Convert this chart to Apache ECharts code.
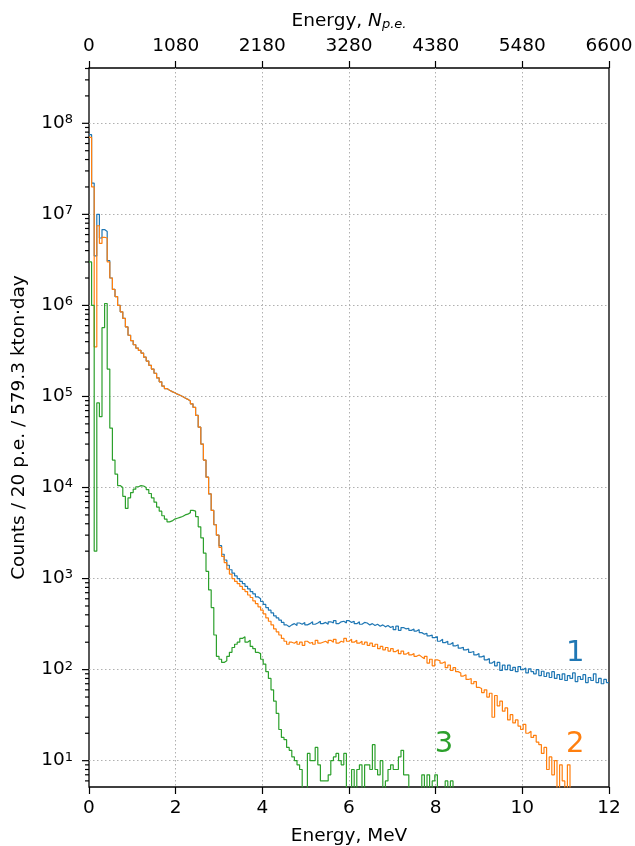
<!DOCTYPE html>
<html><head><meta charset="utf-8">
<script src="https://cdn.jsdelivr.net/npm/echarts@6/dist/echarts.min.js"></script>
<style>html,body{margin:0;padding:0;background:#fff}#c{width:635px;height:846px}</style>
</head><body><div id="c"></div>
<script>
// ---- data ----
const binWidth = 0.06; // MeV, bins start at 0
const xTicksMeV = [0, 2, 4, 6, 8, 10, 12];
const topTickLabels = ['0', '1080', '2180', '3280', '4380', '5480', '6600'];
const yDecadeExps = [1, 2, 3, 4, 5, 6, 7, 8];
const yMinorMults = [2, 3, 4, 5, 6, 7, 8, 9];

const series1 = [
  7.5e7, 2.2e7, 3.5e6, 1.0e7, 5.5e6, 6.8e6, 6.5e6, 3.1e6, 2.0e6, 1.5e6,
  1.25e6, 1.0e6, 8.5e5, 7.2e5, 5.8e5, 4.7e5, 4.1e5, 3.7e5, 3.4e5, 3.2e5,
  3.0e5, 2.7e5, 2.45e5, 2.2e5, 2.0e5, 1.8e5, 1.6e5, 1.45e5, 1.3e5, 1.22e5,
  1.17e5, 1.13e5, 1.1e5, 1.06e5, 1.03e5, 1.0e5, 9.6e4, 9.3e4, 8.9e4, 8.3e4,
  7.6e4, 6.2e4, 4.6e4, 3.0e4, 2.0e4, 1.3e4, 8.5e3, 5.6e3, 3.9e3, 3.0e3,
  2300, 1850, 1600, 1400, 1250, 1150, 1070, 1000, 930, 880,
  820, 770, 720, 680, 630, 600, 560, 520, 480, 450,
  420, 390, 370, 350, 330, 310, 295, 310, 320, 305,
  325, 315, 330, 310, 320, 335, 315, 325, 340, 320,
  330, 315, 335, 325, 345, 320, 335, 340, 325, 345,
  330, 340, 320, 335, 315, 330, 325, 310, 320, 305,
  315, 300, 310, 295, 305, 290, 300, 275, 300, 270,
  290, 280, 285, 270, 280, 265, 275, 255, 245, 250,
  235, 240, 225, 230, 205, 215, 198, 205, 190, 198,
  182, 188, 172, 176, 165, 168, 155, 158, 145, 150,
  138, 142, 128, 132, 118, 124, 110, 120, 98, 112,
  100, 112, 98, 106, 95, 108, 100, 104, 92, 102,
  95, 90, 100, 86, 96, 84, 92, 82, 95, 80,
  88, 78, 90, 76, 86, 80, 92, 74, 84, 78,
  88, 72, 82, 76, 90, 72, 80, 70, 78, 72
];

const series2 = [
  7.0e7, 2.0e7, 3.5e5, 7.5e6, 4.8e6, 5.6e6, 5.5e6, 3.0e6, 2.0e6, 1.5e6,
  1.25e6, 1.0e6, 8.5e5, 7.2e5, 5.8e5, 4.7e5, 4.1e5, 3.7e5, 3.4e5, 3.2e5,
  3.0e5, 2.7e5, 2.45e5, 2.2e5, 2.0e5, 1.8e5, 1.6e5, 1.45e5, 1.3e5, 1.22e5,
  1.17e5, 1.13e5, 1.1e5, 1.06e5, 1.03e5, 1.0e5, 9.6e4, 9.3e4, 8.9e4, 8.3e4,
  7.6e4, 6.2e4, 4.6e4, 3.0e4, 2.0e4, 1.3e4, 8.5e3, 5.6e3, 3.9e3, 3.0e3,
  2200, 1750, 1500, 1270, 1120, 1000, 930, 880, 820, 760,
  720, 660, 620, 570, 530, 490, 450, 410, 370, 340,
  310, 280, 260, 240, 220, 205, 190, 200, 195, 205,
  190, 200, 185, 205, 195, 200, 190, 210, 195, 200,
  205, 195, 210, 200, 215, 195, 205, 200, 220, 205,
  215, 200, 210, 195, 205, 190, 200, 185, 195, 180,
  190, 170, 180, 165, 175, 160, 170, 158, 165, 150,
  160, 148, 155, 145, 150, 140, 145, 138, 132, 140,
  118, 130, 110, 128, 125, 118, 122, 105, 112, 98,
  105, 95, 92, 85, 88, 78, 80, 70, 74, 64,
  62, 56, 60, 50, 55, 30, 52, 40, 45, 35,
  38, 28, 32, 26, 28, 24, 22, 25, 20, 21,
  18, 19, 16, 15, 12, 14, 8, 11, 7, 10,
  0, 9, 6, 0, 9, 0, 0, 0, 0, 0,
  0, 0, 0, 0, 0, 0, 0, 0, 0, 0
];

const series3 = [
  3.0e6, 1.0e6, 2.0e3, 8.5e4, 6.0e4, 5.7e5, 1.05e6, 2.0e5, 4.5e4, 2.0e4,
  1.4e4, 1.05e4, 1.0e4, 8.0e3, 5.9e3, 7.7e3, 8.8e3, 9.6e3, 1.02e4, 1.05e4,
  1.04e4, 1.0e4, 9.5e3, 8.6e3, 7.7e3, 6.9e3, 6.1e3, 5.5e3, 4.9e3, 4.5e3,
  4.2e3, 4.3e3, 4.5e3, 4.6e3, 4.7e3, 4.8e3, 5.0e3, 5.1e3, 5.3e3, 5.6e3,
  5.5e3, 4.8e3, 3.7e3, 2.8e3, 1.9e3, 1.2e3, 750, 480, 240, 140,
  130, 120, 125, 140, 155, 175, 190, 200, 220, 230,
  200, 210, 180, 170, 155, 150, 130, 115, 95, 80,
  60, 45, 33, 22, 18, 17, 14, 13, 11, 10,
  9, 8, 0, 0, 12, 10, 10, 14, 9, 6,
  6, 6, 7, 10, 11, 12, 10, 9, 12, 0,
  0, 8, 0, 8, 9, 0, 9, 9, 8, 15,
  8, 7, 10, 0, 6, 8, 9, 8, 8, 11,
  13, 7, 7, 0, 0, 0, 0, 0, 7, 0,
  7, 0, 6, 7, 0, 0, 0, 6, 0, 6,
  0, 0, 0, 0, 0, 0, 0, 0, 0, 0,
  0, 0, 0, 0, 0, 0, 0, 0, 0, 0,
  0, 0, 0, 0, 0, 0, 0, 0, 0, 0,
  0, 0, 0, 0, 0, 0, 0, 0, 0, 0,
  0, 0, 0, 0, 0, 0, 0, 0, 0, 0,
  0, 0, 0, 0, 0, 0, 0, 0, 0, 0
];

const seriesNames = ['1', '2', '3'];
const seriesColors = ['#1f77b4', '#ff7f0e', '#2ca02c'];
// label anchors in data coordinates [MeV, counts]
const labelAnchors = [[11.22, 152], [11.22, 14.9], [8.19, 14.9]];

// ---- chart ----
const FONT = 'DejaVu Sans';
const yMin = 5.14, yMax = 4.05e8;
const xMax = 12;

function histPoints(vals) {
  const pts = vals.map((v, i) => [i * binWidth, v > 0 ? v : 0.01]);
  const last = vals[vals.length - 1];
  pts.push([vals.length * binWidth, last > 0 ? last : 0.01]);
  return pts;
}

const tickData = [];
yDecadeExps.forEach(e => {
  const d = Math.pow(10, e);
  if (d >= yMin && d <= yMax) tickData.push([0, d, 1]);
  const base = Math.pow(10, e - 1);
  yMinorMults.forEach(m => {
    const v = m * base;
    if (v >= yMin && v <= yMax) tickData.push([0, v, 0]);
  });
});
yMinorMults.forEach(m => {
  const v = m * Math.pow(10, 8);
  if (v >= yMin && v <= yMax) tickData.push([0, v, 0]);
});

const gridLine = { color: '#b0b0b0', width: 1, type: [1.5, 2.5] };

const histSeries = [series1, series2, series3].map((vals, k) => ({
  type: 'line', name: seriesNames[k], step: 'end', showSymbol: false,
  data: histPoints(vals), clip: true, silent: true,
  lineStyle: { color: seriesColors[k], width: 1.2 }, z: 2 + k
}));

const labelSeries = labelAnchors.map((p, k) => ({
  type: 'scatter', data: [p], symbolSize: 0, silent: true, z: 10,
  itemStyle: { opacity: 1 },
  label: { show: true, position: 'inside', formatter: seriesNames[k],
    fontFamily: FONT, fontSize: 29, color: seriesColors[k], opacity: 1 }
}));

const option = {
  animation: false,
  backgroundColor: '#fff',
  grid: { left: 89, right: 26, top: 68, bottom: 59, show: true,
    outerBoundsMode: 'none', containLabel: false,
    borderColor: '#000', borderWidth: 1.3, backgroundColor: 'transparent' },
  xAxis: [{
    type: 'value', position: 'bottom', min: 0, max: xMax, interval: 2,
    axisLine: { show: false },
    axisTick: { show: true, length: 7, lineStyle: { color: '#000', width: 1.2 } },
    axisLabel: { margin: 12, fontFamily: FONT, fontSize: 18.5, color: '#000' },
    splitLine: { show: true, showMinLine: false, showMaxLine: false, lineStyle: gridLine },
    name: 'Energy, MeV', nameLocation: 'middle', nameGap: 40,
    nameTextStyle: { fontFamily: FONT, fontSize: 18.5, color: '#000' }
  }, {
    type: 'value', position: 'top', min: 0, max: xMax, interval: 2,
    axisLine: { show: false },
    axisTick: { show: true, length: 7, lineStyle: { color: '#000', width: 1.2 } },
    axisLabel: { margin: 12, fontFamily: FONT, fontSize: 18.5, color: '#000',
      formatter: v => topTickLabels[xTicksMeV.indexOf(Math.round(v))] },
    splitLine: { show: false },
    name: '{a|Energy, }{b|N}{c|p.e.}', nameLocation: 'middle', nameGap: 37,
    nameTextStyle: { fontFamily: FONT, fontSize: 18.5, color: '#000',
      rich: {
        a: { fontFamily: FONT, fontSize: 18.5, color: '#000' },
        b: { fontFamily: FONT, fontSize: 18.5, fontStyle: 'italic', color: '#000' },
        c: { fontFamily: FONT, fontSize: 13, fontStyle: 'italic', color: '#000', verticalAlign: 'bottom' }
      } }
  }],
  yAxis: [{
    type: 'log', logBase: 10, min: yMin, max: yMax,
    axisLine: { show: false }, axisTick: { show: false },
    axisLabel: { showMinLabel: false, showMaxLabel: false, margin: 16,
      formatter: v => '{n|10}{s|' + Math.round(Math.log10(v)) + '}',
      rich: {
        n: { fontFamily: FONT, fontSize: 18.5, color: '#000', lineHeight: 20 },
        s: { fontFamily: FONT, fontSize: 13, color: '#000', verticalAlign: 'top', lineHeight: 13 }
      } },
    splitLine: { show: true, showMinLine: false, showMaxLine: false, lineStyle: gridLine },
    name: 'Counts / 20 p.e. / 579.3 kton·day', nameLocation: 'middle', nameGap: 60,
    nameTextStyle: { fontFamily: FONT, fontSize: 18.5, color: '#000' }
  }],
  series: [
    ...histSeries,
    ...labelSeries,
    {
      type: 'custom', data: tickData, clip: false, silent: true, z: 20,
      encode: { x: 0, y: 1 },
      renderItem: (params, api) => {
        const p = api.coord([0, api.value(1)]);
        const len = api.value(2) ? 7 : 4;
        return { type: 'line', shape: { x1: p[0] - len, y1: p[1], x2: p[0], y2: p[1] },
          style: { stroke: '#000', lineWidth: 1.2 } };
      }
    }
  ]
};
const chart = echarts.init(document.getElementById('c'), null, { renderer: 'canvas' });
chart.setOption(option);
</script></body></html>
